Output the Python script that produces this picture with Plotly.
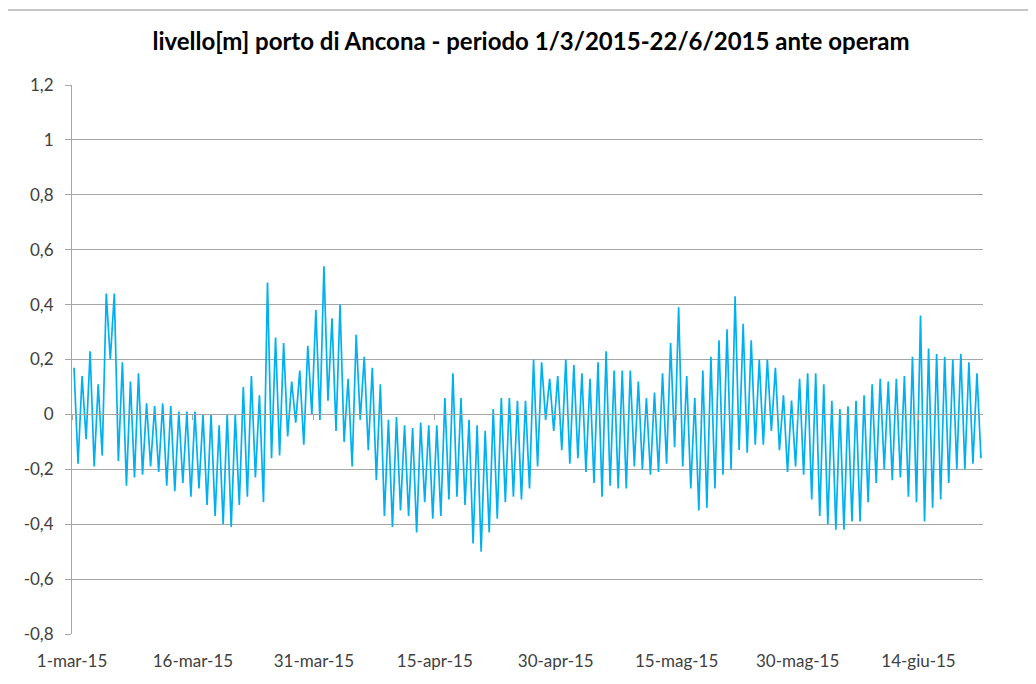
import plotly.graph_objects as go
import pandas as pd

title_text = "livello[m] porto di Ancona - periodo 1/3/2015-22/6/2015 ante operam"
start_date = "2015-03-01"
end_date = "2015-06-22"

# daily high / low water level [m] (1 Mar -> 21 Jun 2015)
daily_max = [
    0.17, 0.14, 0.23, 0.11, 0.44, 0.44, 0.19, 0.12, 0.15, 0.04,
    0.03, 0.04, 0.03, 0.01, 0.01, 0.01, 0.00, 0.00, -0.04, 0.00,
    0.00, 0.10, 0.14, 0.07, 0.48, 0.28, 0.26, 0.12, 0.16, 0.25,
    0.38, 0.54, 0.35, 0.40, 0.13, 0.29, 0.21, 0.17, 0.11, -0.02,
    -0.01, -0.04, -0.05, -0.03, -0.04, -0.04, 0.06, 0.15, 0.06, -0.02,
    -0.04, -0.06, 0.02, 0.06, 0.06, 0.05, 0.05, 0.20, 0.19, 0.13,
    0.14, 0.20, 0.18, 0.15, 0.13, 0.19, 0.23, 0.16, 0.16, 0.16,
    0.12, 0.06, 0.08, 0.15, 0.26, 0.39, 0.14, 0.06, 0.16, 0.21,
    0.27, 0.31, 0.43, 0.33, 0.27, 0.20, 0.20, 0.17, 0.07, 0.05,
    0.13, 0.15, 0.15, 0.11, 0.05, 0.02, 0.03, 0.05, 0.07, 0.11,
    0.13, 0.12, 0.13, 0.14, 0.21, 0.36, 0.24, 0.22, 0.21, 0.20,
    0.22, 0.19, 0.15,
]
daily_min = [
    -0.18, -0.09, -0.19, -0.15, 0.20, -0.17, -0.26, -0.23, -0.22, -0.19,
    -0.21, -0.26, -0.28, -0.25, -0.30, -0.27, -0.33, -0.37, -0.40, -0.41,
    -0.33, -0.30, -0.23, -0.32, -0.16, -0.15, -0.08, -0.03, -0.11, 0.00,
    -0.02, 0.05, -0.06, -0.10, -0.19, -0.02, -0.13, -0.24, -0.37, -0.41,
    -0.35, -0.37, -0.43, -0.32, -0.38, -0.37, -0.31, -0.30, -0.33, -0.47,
    -0.50, -0.43, -0.38, -0.32, -0.30, -0.31, -0.27, -0.19, -0.02, -0.06,
    -0.13, -0.18, -0.16, -0.21, -0.25, -0.30, -0.26, -0.27, -0.27, -0.19,
    -0.20, -0.22, -0.21, -0.18, -0.12, -0.19, -0.27, -0.35, -0.34, -0.27,
    -0.22, -0.20, -0.13, -0.14, -0.11, -0.11, -0.06, -0.13, -0.21, -0.19,
    -0.22, -0.31, -0.37, -0.40, -0.42, -0.42, -0.39, -0.39, -0.32, -0.25,
    -0.20, -0.24, -0.23, -0.30, -0.32, -0.39, -0.34, -0.31, -0.25, -0.20,
    -0.20, -0.18, -0.16,
]

x_tick_dates = ["2015-03-01", "2015-03-16", "2015-03-31", "2015-04-15",
                "2015-04-30", "2015-05-15", "2015-05-30", "2015-06-14"]
x_tick_labels = ["1-mar-15", "16-mar-15", "31-mar-15", "15-apr-15",
                 "30-apr-15", "15-mag-15", "30-mag-15", "14-giu-15"]
y_tick_values = [-0.8, -0.6, -0.4, -0.2, 0, 0.2, 0.4, 0.6, 0.8, 1, 1.2]
y_tick_labels = ["-0,8", "-0,6", "-0,4", "-0,2", "0", "0,2", "0,4", "0,6", "0,8", "1", "1,2"]

levels = [v for pair in zip(daily_max, daily_min) for v in pair]
times = pd.date_range(pd.Timestamp(start_date) + pd.Timedelta(hours=6),
                      periods=len(levels), freq="12h")

FONT = "Lato, Open Sans, sans-serif"
GRID = "#A6A6A6"
W, H = 1036, 684
OFF = 8  # page offset of the figure inside the browser window
# target plot-area box in window pixels: x 72..983, y 85..634
ML = 72 - OFF
MT = 85 - OFF
MR = W - (983 - OFF)
MB = H - (634 - OFF)
plot_w = W - ML - MR
plot_h = H - MT - MB
ymin, ymax = y_tick_values[0], y_tick_values[-1]

fig = go.Figure()
fig.add_trace(go.Scatter(x=times, y=levels, mode="lines",
                         line=dict(color="#00B0F0", width=1.7),
                         showlegend=False, hoverinfo="x+y"))
fig.add_trace(go.Scatter(x=[start_date, end_date], y=[None, None], xaxis="x2",
                         mode="lines", showlegend=False, hoverinfo="skip"))

# chart-area border (top and left edges visible in the reference)
bx = (5 - 72) / plot_w
by = (634 - 10) / plot_h
fig.add_shape(type="line", xref="paper", yref="paper", x0=bx, x1=bx, y0=-0.3, y1=by,
              line=dict(color="#8C8C8C", width=1))
fig.add_shape(type="line", xref="paper", yref="paper", x0=bx, x1=1.3, y0=by, y1=by,
              line=dict(color="#8C8C8C", width=1))

fig.update_layout(
    width=W, height=H,
    margin=dict(l=ML, r=MR, t=MT, b=MB),
    paper_bgcolor="white", plot_bgcolor="white",
    title=dict(text="<b>" + title_text + "</b>", x=(531 - OFF) / W, xref="container",
               xanchor="center", y=1 - (42 - OFF) / H, yref="container", yanchor="middle",
               font=dict(family=FONT, size=24, color="#000000")),
    xaxis=dict(type="date", range=[start_date, end_date],
               tickvals=x_tick_dates, ticktext=x_tick_labels,
               showgrid=False, showline=False, zeroline=False, ticks="",
               tickfont=dict(family=FONT, size=17, color="#404040"),
               ticklabelstandoff=15),
    xaxis2=dict(type="date", range=[start_date, end_date], overlaying="x",
                anchor="free", position=(0 - ymin) / (ymax - ymin), side="bottom",
                tickvals=x_tick_dates, showticklabels=False,
                ticks="outside", ticklen=5, tickcolor=GRID,
                showline=True, linecolor=GRID, linewidth=1,
                showgrid=False, zeroline=False),
    yaxis=dict(range=[ymin, ymax], tickvals=y_tick_values, ticktext=y_tick_labels,
               showgrid=True, gridcolor=GRID, gridwidth=1, zeroline=False,
               showline=True, linecolor=GRID, linewidth=1,
               ticks="outside", ticklen=6, tickcolor=GRID,
               tickfont=dict(family=FONT, size=17, color="#404040"),
               ticklabelstandoff=8),
)

fig.write_html("out.html")
